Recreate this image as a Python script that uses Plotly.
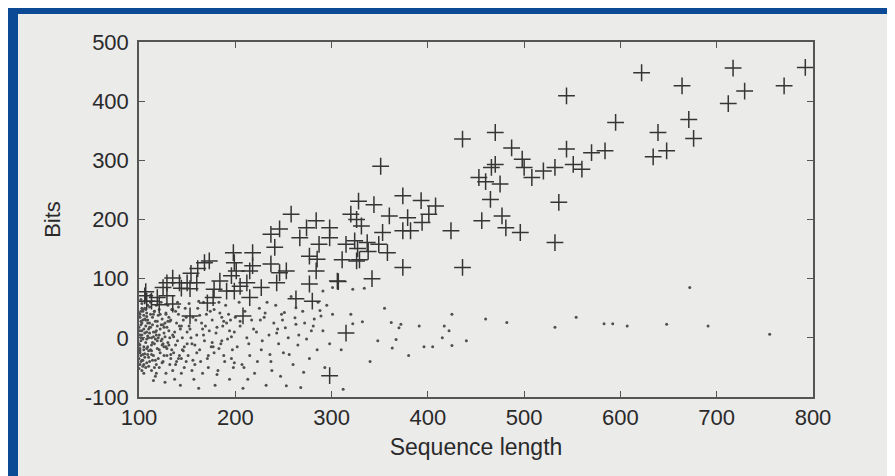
import plotly.graph_objects as go

# "+" markers: (sequence length, bits)
plus_x = [622, 544, 664, 717, 729, 712, 770, 792, 595, 671, 676, 639, 648, 634, 570, 584, 544, 551, 560, 532,
          520, 508, 500, 498, 487, 470, 436, 470, 466, 453, 460, 475, 465, 536, 374, 393, 408, 401, 394, 379,
          360, 351, 374, 382, 353, 424, 456, 477, 481, 496, 532, 358, 374, 436,
          328, 344, 258, 284, 320, 326, 331, 246, 274, 298, 267, 298, 287, 315, 324, 337, 349,
          198, 218, 237, 277, 285, 284, 277, 280, 306, 315, 298, 342, 326, 263, 253, 246, 237, 243, 227,
          215, 218, 212, 215, 208, 201, 196, 191, 199, 184, 177, 171, 168, 173, 161, 160, 153, 150, 142, 135,
          129, 125, 129, 119, 113, 108, 106, 135, 153, 241, 199,
          338, 327, 329, 311, 307, 121, 144, 154, 178, 205, 107]
plus_y = [448, 409, 426, 456, 417, 396, 426, 457, 364, 369, 337, 347, 316, 306, 313, 316, 319, 293, 285, 288,
          282, 271, 288, 302, 321, 347, 336, 293, 288, 271, 264, 260, 234, 229, 240, 232, 223, 209, 195, 203,
          206, 290, 181, 181, 178, 181, 198, 206, 186, 178, 161, 144, 119, 119,
          231, 225, 209, 198, 209, 200, 189, 184, 186, 186, 169, 169, 158, 158, 164, 161, 158,
          144, 144, 175, 138, 133, 113, 91, 62, 96, 8, -64, 100, 130, 66, 113, 110, 125, 93, 85,
          113, 122, 93, 68, 37, 113, 105, 79, 79, 96, 68, 59, 127, 130, 117, 93, 83, 93, 93, 101,
          93, 85, 71, 68, 62, 62, 71, 57, 37, 153, 127,
          146, 151, 132, 132, 95, 56, 84, 109, 82, 87, 78]

# small dots: (sequence length, bits)
dot_x = [101, 102, 101, 103, 102, 101, 103, 104, 105, 104, 105, 106, 104, 107, 107, 108, 106, 109, 108, 109,
         110, 110, 103, 102, 106, 108, 105, 109, 101, 104, 107, 110, 102, 108, 106, 101, 103, 105, 109, 110,
         111, 112, 113, 112, 114, 111, 113, 115, 116, 115, 117, 116, 118, 119, 118, 119, 117, 120, 120, 112,
         114, 116, 118, 111, 113, 115, 117, 119, 114, 120,
         121, 122, 123, 122, 124, 121, 125, 126, 126, 127, 128, 129, 128, 130, 131, 132, 133, 134, 135, 123,
         127, 130, 133, 134, 124, 129, 131, 135, 126, 132,
         136, 137, 138, 139, 140, 141, 142, 143, 144, 145, 146, 147, 148, 149, 150, 137, 140, 143, 146, 149,
         138, 144, 147, 141, 150,
         151, 153, 155, 156, 158, 160, 161, 163, 165, 166, 168, 170, 171, 173, 175, 152, 157, 162, 167, 172,
         154, 159, 164, 169, 174, 160, 155,
         176, 178, 180, 182, 184, 185, 187, 189, 190, 192, 194, 195, 197, 199, 179, 183, 188, 193, 198, 181,
         186, 191, 196, 177, 200,
         202, 205, 207, 210, 212, 215, 217, 220, 222, 225, 227, 230, 232, 235, 237, 240, 242, 245, 248, 250,
         204, 213, 219, 228, 233, 238, 244, 208, 223, 247,
         252, 256, 263, 268, 251, 263, 274, 279, 282, 289, 291, 291, 253, 260, 266, 270, 277, 285, 295, 298,
         258, 272, 286, 293, 255,
         301, 301, 312, 320, 322, 322, 332, 334, 348, 362, 363, 367, 370, 372, 391, 396, 405, 417, 422, 425,
         425, 415, 310, 340, 355, 380, 440,
         460, 482, 532, 554, 583, 592, 607, 648, 672, 691, 755,
         100, 101, 102, 100, 101, 103, 100, 102, 104, 100, 101, 103, 105, 100, 102, 104, 106, 101, 103, 105,
         107, 109, 111, 113, 108, 110, 112, 114, 116, 118, 106, 108, 111, 113, 115, 117, 119, 121, 123, 125,
         122, 124, 126, 128, 130, 127, 129, 131, 133, 118, 121, 124, 112, 115, 109, 104, 107, 102, 136, 139,
         142, 145, 138, 141, 144, 132, 135, 128, 125, 117,
         152, 158, 163, 167, 172, 178, 183, 188, 194, 199, 156, 166, 176, 186, 196, 162, 181, 205, 214, 226,
         236, 243, 209, 231, 249, 265, 281, 271, 288, 262]
dot_y = [-45, -30, -12, 5, 22, 40, 58, -38, -20, -2, 15, 32, 48, -50, -8, 10, -27, 25, 42, -15,
         -33, 0, -55, 65, 62, -42, -60, 55, 12, 30, 20, -22, -5, -2, 8, -22, -38, 38, 3, 15,
         -40, -20, 0, 18, 35, 52, -55, -30, -10, 10, 28, 45, -45, -18, 5, 20, -65, -35, 38, 60,
         -8, -50, 55, 8, -28, -72, -2, -5, 22, 0,
         -50, -25, -5, 15, 32, 48, -40, -15, 8, 25, -60, -30, 42, -8, 12, -45, 30, -20, 5, 60,
         -75, 55, -35, 48, -2, 18, -12, -55, -30, 0,
         -25, 10, -45, 25, -5, 40, -30, 15, -60, 0, 30, -15, 50, -40, 10, -70, 60, -80, -22, 35,
         -12, 20, -50, -35, -10,
         -30, 15, -10, 35, -45, 5, 50, -20, 25, -60, -5, 40, -35, 12, -15, 58, -70, -85, 60, -50,
         0, 30, -40, 20, 45, -25, -55,
         30, -25, 8, -55, 42, -10, 20, -40, 55, -2, -70, 30, -20, 10, -80, 60, -30, 40, -50, 18,
         -5, 25, -35, -15, 35,
         -15, 20, -45, 45, 0, -30, 30, -60, 10, 50, -20, 35, -80, 5, -40, 25, 55, -10, 40, -25,
         60, -70, 15, -5, 60, -55, 15, -85, -40, -65,
         17, -28, 23, -84, 43, 51, -2, 12, 32, 37, 12, 79, -81, -45, 5, 45, -35, -20, 55, -10,
         70, 25, 60, -50, 0,
         40, 85, -87, 40, 24, 82, 27, 84, -5, 26, -17, -3, 17, 23, 20, -15, -15, 20, 12, 40,
         -13, 0, -20, -40, 50, -30, -5,
         32, 26, 18, 35, 24, 24, 20, 23, 85, 20, 6,
         -35, -18, 0, 18, 35, 50, -52, 28, -28, -10, 5, 12, -45, 42, -40, 45, -33, -25, 25, -15,
         30, -28, 18, -12, 36, -48, 40, -38, 45, 12, 50, -18, 25, -22, 2, -38, 28, -20, 22, -10,
         40, -42, 18, -15, 28, 2, -18, 35, -28, -60, 5, -12, 72, 40, 30, -48, 48, 45, 2, -40,
         20, -20, 45, 52, -35, 28, 48, 40, 22, 10,
         20, -12, 38, 5, -30, 48, -18, 28, 12, -42, -38, 15, -8, 35, 2, 62, -62, 28, -10, 30,
         -28, 8, -50, 42, 30, -12, 20, -58, 46, 34]

x_ticks = [100, 200, 300, 400, 500, 600, 700, 800]
y_ticks = [-100, 0, 100, 200, 300, 400, 500]

ink = "#353535"
font_family = "Liberation Sans, Arial, sans-serif"
fig = go.Figure()
fig.add_trace(go.Scatter(x=dot_x, y=dot_y, mode="markers",
                         marker=dict(symbol="circle", size=3, color="#505050", line=dict(width=0)),
                         showlegend=False, hoverinfo="skip"))
fig.add_trace(go.Scatter(x=plus_x, y=plus_y, mode="markers",
                         marker=dict(symbol="cross-thin", size=12, color=ink,
                                     line=dict(color=ink, width=1.5)),
                         showlegend=False))

W, H = 895, 476
L, R, T, B = 131, 90, 34, 87
pw, ph = W - L - R, H - T - B

def px2paper_x(px):
    return (px - L) / pw

def py2paper_y(py):
    return (H - B - py) / ph

fig.add_shape(type="rect", xref="paper", yref="paper", layer="below",
              x0=px2paper_x(10), x1=px2paper_x(W + 5), y0=py2paper_y(H + 5), y1=py2paper_y(6),
              fillcolor="#ebebea", line=dict(width=0))

axis_common = dict(showgrid=False, zeroline=False, showline=True, linecolor="#555555", linewidth=1.5,
                   mirror="ticks", ticks="inside", ticklen=6, tickwidth=1.3, tickcolor="#555555",
                   automargin=False,
                   tickfont=dict(family=font_family, size=22, color="#2a2a2a"))

fig.update_xaxes(range=[100, 800], tickvals=x_ticks, ticktext=[str(v) for v in x_ticks],
                 title=dict(text="Sequence length", standoff=10,
                            font=dict(family=font_family, size=23, color="#2a2a2a")),
                 **axis_common)
fig.update_yaxes(range=[-100, 500], tickvals=y_ticks, ticktext=[str(v) for v in y_ticks],
                 ticklabelstandoff=4,
                 title=dict(text="Bits", standoff=18,
                            font=dict(family=font_family, size=22, color="#2a2a2a")),
                 **axis_common)

fig.update_layout(width=W, height=H, autosize=False,
                  margin=dict(l=L, r=R, t=T, b=B, pad=0),
                  paper_bgcolor="#0c4a96", plot_bgcolor="rgba(0,0,0,0)")

fig.write_html("out.html")
